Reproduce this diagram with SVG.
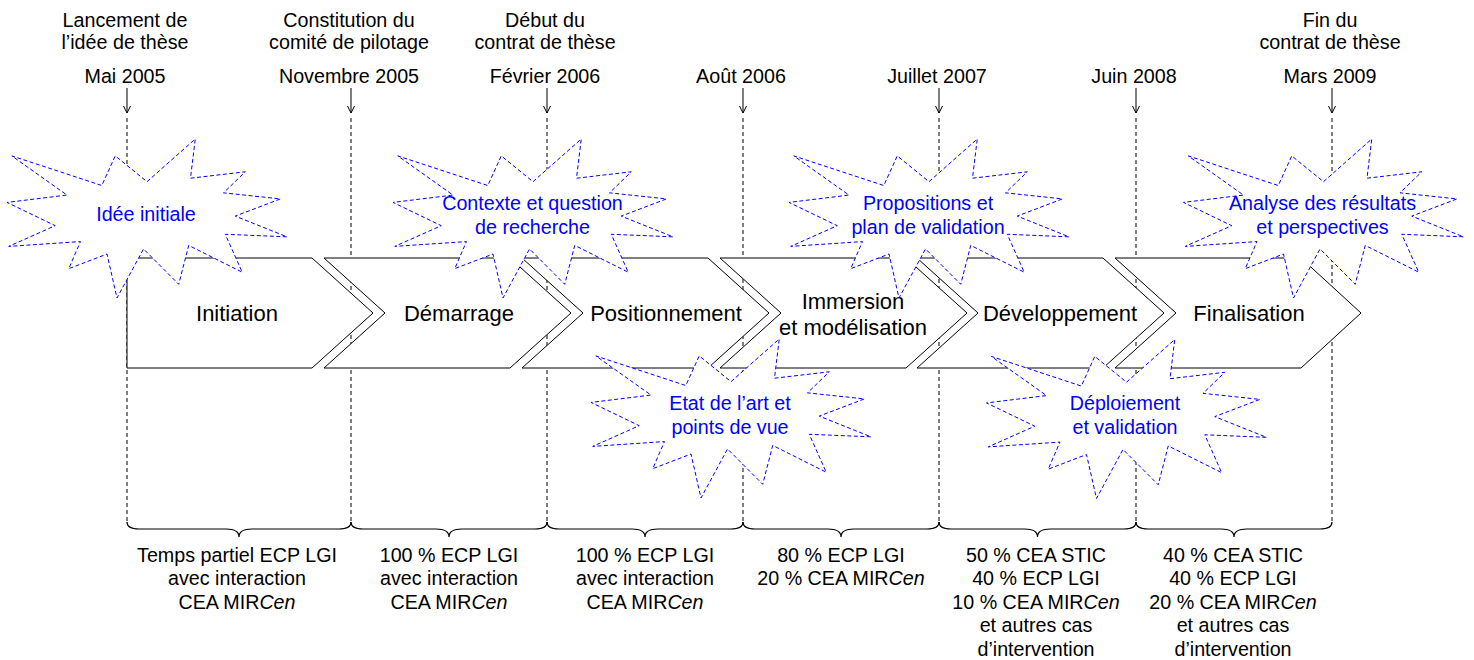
<svg xmlns="http://www.w3.org/2000/svg" xmlns:xlink="http://www.w3.org/1999/xlink" width="1474" height="660" viewBox="0 0 1474 660">
<style>
.t{font-family:"Liberation Sans",Arial,sans-serif;font-size:19.7px;fill:#000;text-anchor:middle}
.c{font-size:22px}
.b{fill:#0000ff}
.dash{stroke:#000;stroke-width:1;stroke-dasharray:4 3;fill:none}
.chev{fill:#fff;stroke:#000;stroke-width:1}
.star{fill:#fff;stroke:#0000ff;stroke-width:1;stroke-dasharray:4 2.5}
.arr{stroke:#000;stroke-width:1;fill:none}
.brace{fill:none;stroke:#000;stroke-width:1.2}
.i{font-style:italic}
</style>
<defs>
<path id="starShape" d="M140,42.69 L188.25,0 L183.49,39.2 L238.26,32.81 L216.51,53.85 L273.48,59.9 L228.24,77.11 L280,97.83 L218.26,95.27 L235.21,133.2 L181.74,106.42 L171.72,145.29 L136.53,109.94 L109.99,159 L100.01,115.03 L61.73,129.68 L73.46,102.59 L1.75,107.38 L48.25,86.68 L0,63.42 L59.98,56.07 L4.8,16.89 L94.79,46.52 L108.27,16.89 Z"/>
</defs>

<g id="connectors">
<path class="dash" d="M127,118 V522 M351,118 V522 M547,118 V522 M743,118 V522 M939,118 V522 M1136,118 V522 M1332,118 V522"/>
<path class="arr" d="M127,88 V113 M123.5,106 L127,113 L130.5,106 M351,88 V113 M347.5,106 L351,113 L354.5,106 M547,88 V113 M543.5,106 L547,113 L550.5,106 M743,88 V113 M739.5,106 L743,113 L746.5,106 M939,88 V113 M935.5,106 L939,113 L942.5,106 M1136,88 V113 M1132.5,106 L1136,113 L1139.5,106 M1332,88 V113 M1328.5,106 L1332,113 L1335.5,106"/>
<path class="brace" d="M127,522 Q127,529 139,529 L226,529 Q239,529 239,537 Q239,529 252,529 L339,529 Q351,529 351,522"/>
<path class="brace" d="M351,522 Q351,529 363,529 L436,529 Q449,529 449,537 Q449,529 462,529 L535,529 Q547,529 547,522"/>
<path class="brace" d="M547,522 Q547,529 559,529 L632,529 Q645,529 645,537 Q645,529 658,529 L731,529 Q743,529 743,522"/>
<path class="brace" d="M743,522 Q743,529 755,529 L828,529 Q841,529 841,537 Q841,529 854,529 L927,529 Q939,529 939,522"/>
<path class="brace" d="M939,522 Q939,529 951,529 L1024.5,529 Q1037.5,529 1037.5,537 Q1037.5,529 1050.5,529 L1124,529 Q1136,529 1136,522"/>
<path class="brace" d="M1136,522 Q1136,529 1148,529 L1221,529 Q1234,529 1234,537 Q1234,529 1247,529 L1320,529 Q1332,529 1332,522"/>
</g>

<g id="date-may2005"><text class="t" x="125" y="26.5">Lancement de</text><text class="t" x="125" y="49">l’idée de thèse</text><text class="t" x="125" y="82.5">Mai 2005</text></g>
<g id="date-nov2005"><text class="t" x="349" y="26.5">Constitution du</text><text class="t" x="349" y="49">comité de pilotage</text><text class="t" x="349" y="82.5">Novembre 2005</text></g>
<g id="date-feb2006"><text class="t" x="545" y="26.5">Début du</text><text class="t" x="545" y="49">contrat de thèse</text><text class="t" x="545" y="82.5">Février 2006</text></g>
<g id="date-aug2006"><text class="t" x="741" y="82.5">Août 2006</text></g>
<g id="date-jul2007"><text class="t" x="937" y="82.5">Juillet 2007</text></g>
<g id="date-jun2008"><text class="t" x="1134" y="82.5">Juin 2008</text></g>
<g id="date-mar2009"><text class="t" x="1330" y="26.5">Fin du</text><text class="t" x="1330" y="49">contrat de thèse</text><text class="t" x="1330" y="82.5">Mars 2009</text></g>

<g id="phase-initiation"><polygon class="chev" points="127,258 312,258 373,313 312,368 127,368"/><text class="t c" x="237" y="321">Initiation</text></g>
<g id="phase-demarrage"><polygon class="chev" points="324,258 510,258 571,313 510,368 324,368 385,313"/><text class="t c" x="459" y="321">Démarrage</text></g>
<g id="phase-positionnement"><polygon class="chev" points="522,258 708,258 769,313 708,368 522,368 583,313"/><text class="t c" x="666" y="321">Positionnement</text></g>
<g id="phase-immersion"><polygon class="chev" points="720,258 906,258 967,313 906,368 720,368 781,313"/><text class="t c" x="853" y="309">Immersion</text><text class="t c" x="853" y="335">et modélisation</text></g>
<g id="phase-developpement"><polygon class="chev" points="917,258 1103,258 1164,313 1103,368 917,368 978,313"/><text class="t c" x="1060" y="321">Développement</text></g>
<g id="phase-finalisation"><polygon class="chev" points="1115,258 1301,258 1361,313 1301,368 1115,368 1176,313"/><text class="t c" x="1249" y="321">Finalisation</text></g>

<g id="star-idee"><use xlink:href="#starShape" href="#starShape" class="star" x="7" y="139"/><text class="t b" x="146" y="221">Idée initiale</text></g>
<g id="star-contexte"><use xlink:href="#starShape" href="#starShape" class="star" x="393" y="139"/><text class="t b" x="532.5" y="209.5">Contexte et question</text><text class="t b" x="532.5" y="233.5">de recherche</text></g>
<g id="star-etat"><use xlink:href="#starShape" href="#starShape" class="star" x="591" y="339"/><text class="t b" x="730" y="410">Etat de l’art et</text><text class="t b" x="730" y="433.5">points de vue</text></g>
<g id="star-propositions"><use xlink:href="#starShape" href="#starShape" class="star" x="789" y="139"/><text class="t b" x="928" y="210">Propositions et</text><text class="t b" x="928" y="234">plan de validation</text></g>
<g id="star-deploiement"><use xlink:href="#starShape" href="#starShape" class="star" x="986.5" y="339.5"/><text class="t b" x="1125" y="410">Déploiement</text><text class="t b" x="1125" y="434">et validation</text></g>
<g id="star-analyse"><use xlink:href="#starShape" href="#starShape" class="star" x="1183.5" y="139"/><text class="t b" x="1322.5" y="210">Analyse des résultats</text><text class="t b" x="1322.5" y="233.5">et perspectives</text></g>

<g id="alloc-1"><text class="t" x="237" y="561.5">Temps partiel ECP LGI</text><text class="t" x="237" y="585">avec interaction</text><text class="t" x="237" y="608.5">CEA MIR<tspan class="i">Cen</tspan></text></g>
<g id="alloc-2"><text class="t" x="449" y="561.5">100 % ECP LGI</text><text class="t" x="449" y="585">avec interaction</text><text class="t" x="449" y="608.5">CEA MIR<tspan class="i">Cen</tspan></text></g>
<g id="alloc-3"><text class="t" x="645" y="561.5">100 % ECP LGI</text><text class="t" x="645" y="585">avec interaction</text><text class="t" x="645" y="608.5">CEA MIR<tspan class="i">Cen</tspan></text></g>
<g id="alloc-4"><text class="t" x="841" y="561.5">80 % ECP LGI</text><text class="t" x="841" y="585">20 % CEA MIR<tspan class="i">Cen</tspan></text></g>
<g id="alloc-5"><text class="t" x="1036" y="561.5">50 % CEA STIC</text><text class="t" x="1036" y="585">40 % ECP LGI</text><text class="t" x="1036" y="608.5">10 % CEA MIR<tspan class="i">Cen</tspan></text><text class="t" x="1036" y="632">et autres cas</text><text class="t" x="1036" y="655.5">d’intervention</text></g>
<g id="alloc-6"><text class="t" x="1233" y="561.5">40 % CEA STIC</text><text class="t" x="1233" y="585">40 % ECP LGI</text><text class="t" x="1233" y="608.5">20 % CEA MIR<tspan class="i">Cen</tspan></text><text class="t" x="1233" y="632">et autres cas</text><text class="t" x="1233" y="655.5">d’intervention</text></g>
</svg>
